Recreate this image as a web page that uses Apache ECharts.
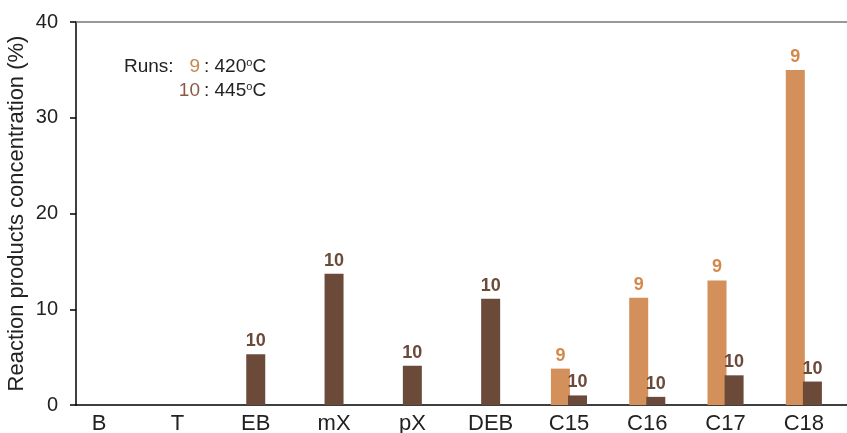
<!DOCTYPE html>
<html>
<head>
<meta charset="utf-8">
<script src="https://cdn.jsdelivr.net/npm/echarts@6/dist/echarts.min.js"></script>
<style>html,body{margin:0;padding:0;background:#fff}#c{width:847px;height:433px}</style>
</head>
<body>
<div id="c"></div>
<script>
var categories = ['B', 'T', 'EB', 'mX', 'pX', 'DEB', 'C15', 'C16', 'C17', 'C18'];
var run9 = [null, null, null, null, null, null, 3.8, 11.2, 13.0, 35.0];
var run10 = [null, null, 5.3, 13.7, 4.1, 11.1, 1.0, 0.85, 3.1, 2.45];
var yTicks = [0, 10, 20, 30, 40];

var cOrange = '#D4905A', cBrown = '#6B4A3A';
var font = 'Liberation Sans, Arial, sans-serif';

var pair10 = run10.map(function (v, i) { return run9[i] == null ? null : v; });
var single10 = run10.map(function (v, i) { return run9[i] == null ? v : null; });

var chart = echarts.init(document.getElementById('c'));
var labelStyle = function (txt, col) {
  return { show: true, position: 'top', distance: 4, formatter: txt, color: col,
           fontSize: 18, fontWeight: 'bold', fontFamily: font };
};
var supRich = { s: { fontSize: 11, verticalAlign: 'top', fill: '#222', padding: [0, 0, 9, 0] } };
chart.setOption({
  animation: false,
  backgroundColor: '#fff',
  textStyle: { fontFamily: font },
  grid: [
    { left: 76, right: 0, top: 22, bottom: 28, containLabel: false, outerBoundsMode: 'none' },
    { left: 60, right: 4, top: 22, bottom: 28, containLabel: false, outerBoundsMode: 'none' }
  ],
  xAxis: [
    { gridIndex: 0, type: 'value', min: 0, max: 1, position: 'bottom',
      axisLine: { show: true, lineStyle: { color: '#000', width: 1.5 } },
      axisTick: { show: false }, axisLabel: { show: false }, splitLine: { show: false } },
    { gridIndex: 0, type: 'value', min: 0, max: 1, position: 'top',
      axisLine: { show: true, lineStyle: { color: '#777', width: 1.5 } },
      axisTick: { show: false }, axisLabel: { show: false }, splitLine: { show: false } },
    { gridIndex: 1, type: 'category', data: categories, position: 'bottom',
      axisLine: { show: false }, axisTick: { show: false },
      axisLabel: { color: '#222', fontSize: 22, margin: 8, fontFamily: font } },
    { gridIndex: 1, type: 'category', data: categories, show: false }
  ],
  yAxis: [
    { gridIndex: 0, type: 'value', min: yTicks[0], max: yTicks[yTicks.length - 1], interval: 10,
      axisLine: { show: true, lineStyle: { color: '#000', width: 1.5 } },
      axisTick: { show: true, length: 6, lineStyle: { color: '#000', width: 1.5 } },
      axisLabel: { color: '#222', fontSize: 20, margin: 18, fontFamily: font },
      splitLine: { show: false },
      name: 'Reaction products concentration (%)', nameLocation: 'middle', nameGap: 48,
      nameMoveOverlap: false,
      nameTextStyle: { color: '#222', fontSize: 22, fontFamily: font } },
    { gridIndex: 1, type: 'value', min: yTicks[0], max: yTicks[yTicks.length - 1], show: false }
  ],
  series: [
    { name: '9', type: 'bar', xAxisIndex: 2, yAxisIndex: 1, data: run9,
      barWidth: 19, barGap: '-10%', itemStyle: { color: cOrange },
      label: labelStyle('9', '#D4884A') },
    { name: '10', type: 'bar', xAxisIndex: 2, yAxisIndex: 1, data: pair10,
      barWidth: 19, barGap: '-10%', itemStyle: { color: cBrown },
      label: labelStyle('10', cBrown) },
    { name: '10 ', type: 'bar', xAxisIndex: 3, yAxisIndex: 1, data: single10,
      barWidth: 19, itemStyle: { color: cBrown },
      label: labelStyle('10', cBrown) }
  ],
  graphic: [
    { type: 'text', left: 124, top: 57, style: { text: 'Runs:', fontSize: 19, fill: '#222', fontFamily: font } },
    { type: 'text', right: 847 - 200, top: 57, style: { text: '9', fontSize: 19, fill: '#C8864A', fontFamily: font } },
    { type: 'text', right: 847 - 200, top: 81, style: { text: '10', fontSize: 19, fill: '#8B5A45', fontFamily: font } },
    { type: 'text', left: 204, top: 57, style: { text: ': 420{s|o}C', fontSize: 19, fill: '#222', fontFamily: font, rich: supRich } },
    { type: 'text', left: 204, top: 81, style: { text: ': 445{s|o}C', fontSize: 19, fill: '#222', fontFamily: font, rich: supRich } }
  ]
});
</script>
</body>
</html>
